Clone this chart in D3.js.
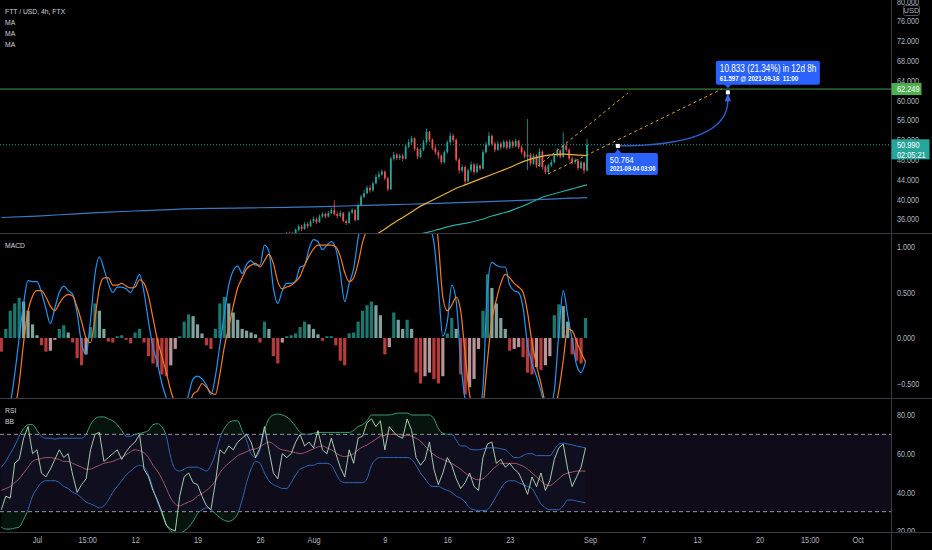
<!DOCTYPE html>
<html><head><meta charset="utf-8">
<script src="https://cdn.jsdelivr.net/npm/d3@7/dist/d3.min.js"></script>
<style>
html,body{margin:0;padding:0;background:#000;overflow:hidden}
svg{display:block;font-family:"Liberation Sans",Arial,sans-serif}
.ax{font-size:9px;fill:#b2b5be;transform-box:fill-box;transform-origin:0% 50%;transform:scaleX(.8)}
.tx{font-size:9px;fill:#b2b5be;transform-box:fill-box;transform-origin:50% 50%;transform:scaleX(.82)}
.lg{font-size:8px;fill:#d1d4dc;transform-box:fill-box;transform-origin:0% 50%;transform:scaleX(.85)}
.wt{fill:#fff;white-space:pre;transform-box:fill-box;transform-origin:0% 50%;transform:scaleX(.82)}
</style></head>
<body><svg id="chart" width="932" height="550"></svg>
<script>
// ---------------- DATA ----------------
const symbolTitle = "FTT / USD, 4h, FTX";
const priceTicks = [36,40,44,48,52,56,60,64,68,72,76,80];
const macdTicks = [-0.5,0,0.5,1];
const rsiTicks = [20,40,60,80];
const timeTickDates = ["2021-07-01T00:00:00Z","2021-07-06T15:00:00Z","2021-07-12T00:00:00Z","2021-07-19T00:00:00Z","2021-07-26T00:00:00Z","2021-08-01T00:00:00Z","2021-08-09T00:00:00Z","2021-08-16T00:00:00Z","2021-08-23T00:00:00Z","2021-09-01T00:00:00Z","2021-09-07T00:00:00Z","2021-09-13T00:00:00Z","2021-09-20T00:00:00Z","2021-09-25T15:00:00Z","2021-10-01T00:00:00Z"];
const timeTickLabels = ["Jul","15:00","12","19","26","Aug","9","16","23","Sep","7","13","20","15:00","Oct"];

// candles, 8h steps starting at candleStart; open = previous close
const candleStart = "2021-07-29T00:00:00Z";
const candleStepHours = 8;
const candleOpen0 = 32.6;
const candleClose = [33.0,32.5,33.0,33.8,34.5,34.0,35.0,34.6,35.5,36.0,
 35.4,36.5,37.0,36.5,37.2,37.8,37.0,36.6,37.2,35.6,
 35.2,37.3,37.8,35.8,38.8,40.5,41.2,42.3,41.8,43.2,
 44.5,45.0,45.6,44.2,42.0,48.2,49.0,48.3,48.8,48.2,
 50.6,51.5,52.3,50.2,48.6,50.0,51.5,53.6,52.0,50.3,
 49.5,48.8,47.5,49.5,51.5,52.8,52.0,48.0,45.8,46.5,
 43.6,45.8,47.0,45.5,46.8,46.2,49.5,51.0,52.8,51.2,
 50.0,51.2,50.5,51.6,50.4,51.6,50.8,51.8,50.5,49.5,
 48.6,49.0,47.2,48.8,46.8,49.6,46.5,45.5,46.8,47.5,
 48.8,49.8,48.6,50.8,50.0,48.2,47.5,47.8,46.3,47.4,
 45.8,50.99];
const candleHigh = [33.4,33.5,33.4,34.1,34.9,34.8,35.4,35.3,35.9,36.5,
 36.3,36.9,37.4,37.3,37.6,38.3,39.8,37.5,37.7,37.4,
 35.9,37.6,38.2,38.0,39.1,40.9,41.8,42.7,42.8,43.6,
 45.0,45.6,46.0,45.8,44.5,48.6,49.6,49.3,49.2,49.2,
 51.0,52.1,52.8,52.5,50.6,50.4,52.0,54.3,53.8,52.3,
 50.8,49.9,49.1,49.9,51.9,53.5,53.2,52.3,48.4,47.0,
 46.8,46.2,47.6,47.3,47.3,47.0,50.0,51.6,53.6,53.0,
 51.6,51.7,51.6,52.0,51.9,52.1,51.9,52.2,52.0,50.9,
 49.9,56.2,49.3,49.2,49.1,50.3,49.9,46.9,47.2,48.0,
 49.2,50.3,50.1,53.5,51.3,50.3,48.6,48.3,48.1,47.8,
 47.6,52.2];
const candleLow = [32.2,32.0,32.2,32.8,33.5,33.6,33.8,34.2,34.4,35.2,
 35.0,35.2,36.2,36.1,36.3,37.0,36.7,36.1,36.3,35.3,
 34.8,35.0,37.0,35.5,35.7,38.6,40.2,41.0,41.3,41.5,
 43.0,44.1,44.7,43.8,41.6,41.9,47.8,47.9,47.9,47.7,
 48.0,50.3,51.0,49.8,48.1,48.3,49.7,51.2,51.5,49.9,
 49.0,48.2,47.1,47.2,49.2,51.2,51.5,47.6,45.2,45.4,
 42.9,43.4,45.4,45.0,45.2,45.8,46.0,49.2,50.6,50.8,
 49.5,49.7,50.0,50.2,50.0,50.1,50.3,50.5,50.1,49.1,
 48.2,45.9,46.8,46.9,46.3,46.5,46.0,45.1,45.2,46.5,
 47.2,48.5,48.2,48.4,49.6,47.8,47.0,47.1,45.9,46.0,
 45.1,45.6];

// moving averages (days after 2021-07-01)
const maSlowDay = [-4,0,4,8,12,16,20,24,28,32,36,40,44,48,52,56,60,61.67];
const maSlow = [36.3,36.6,37.0,37.4,37.7,38.0,38.15,38.25,38.35,38.5,38.7,38.9,39.1,39.35,39.6,39.9,40.2,40.3];
const maFastDay = [38,39,40,41,42,43,44,45,46,47,48,49,50,51,52,53,54,55,56,57,58,59,60,61,61.67];
const maFast = [32.8,34.0,35.2,36.3,37.4,38.6,39.5,40.4,41.3,42.2,42.9,43.6,44.3,45.0,45.7,46.4,47.2,47.9,48.4,48.8,49.0,49.1,49.0,48.9,48.8];
const maMidDay = [43,44,45,46,47,48,49,50,51,52,53,54,55,56,57,58,59,60,61,61.67];
const maMid = [33.0,33.4,33.9,34.4,34.8,35.1,35.5,36.0,36.6,37.1,37.6,38.3,39.0,39.9,40.6,41.1,41.6,42.1,42.6,42.9];

// price lines and drawings
const targetPrice = 62.249;
const lastPrice = 50.990;
const countdown = "02:05:21";
const trendStartTimes = ["2021-08-26T04:00:00Z","2021-08-27T07:00:00Z"];
const trendStartPrices = [46.7,45.09];
const trendEndTimes = ["2021-09-05T06:00:00Z","2021-09-15T19:00:00Z"];
const trendEndPrices = [61.45,62.26];
const projTimes = ["2021-09-04T03:00:00Z","2021-09-16T11:00:00Z"];
const projPrices = [50.764,61.597];
const projStartLabel = ["50.764","2021-09-04 03:00"];
const projEndLabel = ["10.833 (21.34%) in 12d 8h","61.597 @ 2021-09-16  11:00"];

// indicator series: 12h steps starting at seriesStart
const seriesStart = "2021-06-27T00:00:00Z";
const seriesStepHours = 12;
const macdLine = [-0.85,-0.85,-0.72,-0.40,0.00,0.38,0.63,0.62,0.62,0.50,
 0.32,0.16,0.33,0.50,0.57,0.52,0.48,0.27,-0.06,-0.18,
 0.20,0.70,0.89,0.76,0.60,0.50,0.56,0.56,0.54,0.50,
 0.60,0.70,0.50,0.18,-0.10,-0.28,-0.50,-0.66,-0.78,-0.85,
 -0.85,-0.80,-0.62,-0.45,-0.42,-0.45,-0.52,-0.62,-0.42,-0.08,
 0.26,0.58,0.74,0.79,0.71,0.81,0.85,0.80,0.80,1.02,
 0.95,0.55,0.38,0.52,0.60,0.60,0.63,0.78,0.80,0.98,
 1.08,1.06,0.97,1.02,1.06,0.98,0.72,0.40,0.60,0.76,
 1.10,1.35,1.55,1.75,1.85,1.90,1.88,1.92,1.96,1.95,
 1.92,1.92,1.82,1.55,1.35,1.28,1.22,1.05,0.55,0.02,
 0.18,0.58,0.40,-0.25,-0.68,-0.85,-0.90,-0.85,-0.55,0.55,
 0.83,0.80,0.78,0.78,0.58,0.52,0.50,0.33,-0.08,-0.28,
 -0.42,-0.58,-0.75,-0.75,-0.58,0.05,0.52,0.25,-0.02,-0.30,
 -0.38,-0.26];
const signalLine = [-0.95,-0.92,-0.88,-0.78,-0.50,-0.05,0.30,0.46,0.52,0.52,
 0.45,0.35,0.30,0.38,0.45,0.48,0.46,0.34,0.18,0.00,
 -0.05,0.22,0.55,0.66,0.66,0.58,0.58,0.60,0.57,0.55,
 0.56,0.64,0.60,0.46,0.22,-0.02,-0.20,-0.38,-0.58,-0.72,
 -0.80,-0.82,-0.75,-0.62,-0.58,-0.50,-0.54,-0.60,-0.62,-0.40,
 -0.10,0.12,0.35,0.55,0.66,0.76,0.80,0.82,0.78,0.85,
 0.92,0.82,0.62,0.54,0.56,0.58,0.62,0.68,0.80,0.90,
 0.98,1.02,1.02,1.02,1.02,1.00,0.90,0.72,0.62,0.66,
 0.82,1.05,1.20,1.35,1.50,1.62,1.70,1.76,1.80,1.83,
 1.84,1.86,1.86,1.84,1.80,1.76,1.70,1.50,1.05,0.45,
 0.30,0.36,0.45,0.30,-0.18,-0.62,-0.85,-0.92,-0.75,-0.25,
 0.20,0.42,0.60,0.70,0.66,0.60,0.56,0.50,0.28,-0.05,
 -0.30,-0.50,-0.72,-0.80,-0.78,-0.58,-0.25,0.10,0.08,-0.04,
 -0.16,-0.26];
const macdHist = [-0.15,0.10,0.30,0.38,0.44,0.40,0.30,0.15,0.03,-0.08,
 -0.15,-0.14,-0.02,0.10,0.14,0.06,-0.05,-0.22,-0.30,-0.18,
 0.12,0.38,0.30,0.10,-0.04,-0.05,0.02,0.03,-0.02,-0.06,
 0.06,0.10,-0.05,-0.20,-0.28,-0.32,-0.40,-0.42,-0.30,-0.12,
 0.02,0.18,0.26,0.24,0.15,0.05,-0.08,-0.12,0.10,0.38,
 0.45,0.38,0.28,0.20,0.10,0.08,0.06,0.04,-0.05,0.18,
 0.10,-0.20,-0.28,-0.05,0.02,0.03,0.05,0.12,0.18,0.15,
 0.10,0.04,-0.03,0.02,0.02,-0.08,-0.25,-0.30,0.05,0.06,
 0.18,0.30,0.36,0.40,0.36,0.25,-0.18,-0.10,0.28,0.20,
 0.10,0.20,0.10,-0.38,-0.50,-0.42,-0.38,-0.45,-0.50,-0.42,
 0.05,0.22,0.10,-0.40,-0.62,-0.54,-0.45,-0.12,0.30,0.70,
 0.55,0.38,0.22,0.10,-0.14,-0.12,-0.10,-0.21,-0.38,-0.40,
 -0.32,-0.35,-0.30,-0.20,0.25,0.37,0.35,0.18,-0.18,-0.25,
 -0.28,0.22];
const rsiLine = [31,38,37,55,57,68,74,60,62,50,
 48,52,57,62,58,60,49,40,44,47,
 62,70,71,56,58,60,62,57,61,64,
 66,70,52,48,41,36,30,23,21,20,
 38,48,50,45,44,38,33,31,45,62,
 60,64,62,66,68,70,66,58,63,74,
 62,50,47,60,58,60,66,70,64,66,
 63,72,62,60,68,60,53,48,62,55,
 68,69,76,78,74,77,62,74,71,69,
 68,78,72,58,54,57,66,52,44,50,
 58,54,47,42,45,50,43,41,58,65,
 66,55,57,53,55,52,50,45,39,48,
 43,50,41,46,57,63,65,52,43,48,
 53,63];
const bbUpper = [53,56,60,64,69,73,75,75,72,69,
 68,68,67.5,68,68,68,68,68,68,70,
 75,78,79,79,78,77,75,72,69,69,
 70,70.5,71,72,75,75.5,74,69,58,52,
 51,52,53,53,53,52,51,54,60,68,
 73,76,77,77,72,67,60,58,62,72,
 78,80,80.5,80,79,77,74,71,70,70,
 70.5,71,71,71,71,71,71,71,71,72,
 74,75,77,80,80,80,80,80,80.5,81,
 81,81,80,80,80,80,80,78,73,70.5,
 70,70,67,64,64,62.5,62,62,62.5,63,
 63,63,62.5,62,60,58,58,59,60,60,
 59,59,59,59,62,65,65.5,65,64.5,64,
 63.5,63];
const bbLower = [22,21,21,21.5,22,26,31,38,42,45,
 46,46,46,45,43,42,40,39,37,35,
 34,33,32,33,36,40,43,46,49,51,
 53,54,53,49,42,35,29,23,20,19,
 19,20,22,25,29,31,32,31,29,27,
 25.5,25,26,29,36,45,52,56,55,50,
 46,44,43,42,42,45,49,52,53,54,
 54,55,55,55,54,50,46,45,45,45,
 45,45,47,54,57,58,58,58,58,58,
 58,58,57,54,50,47,44,43,43,42,
 41,40,38,37,35,32,31,30.5,30.5,31,
 34,38,42,45,46,46,45,44,43,42,
 38,34,32,31,31,31,33,36,36,35.5,
 35,34.5];
const bbBasis = [41,42,43,45,47,50,53,56,57,57.5,
 58,58,57.5,57,56,56,55,54,53,52,
 52,53,54,55,55.5,56,57,58,59.5,61,
 62,61.5,60.5,58,54,51,47,42,37,34,
 33,34,35,36,38,39.5,41,43,46,50,
 53,55,57,59,60,61,62,62.5,63.5,65,
 66,65,63,62,61.5,61,60.5,60,60.5,61.5,
 62.5,63.5,64,63,62,60.5,59,58.5,59,60,
 62,63.5,64.5,66,67.5,69,69.5,70,70,70,
 69.5,69.5,69,68,66.5,64,61.5,59.5,58,57,
 56,55,53.5,52,50,48.5,47,46.5,47,49,
 51.5,53.5,55,55,55,55,54.5,53.5,52,50,
 48,46,44,43.5,45,47,49,50,50.5,51,
 51,51];
const rsiUpperLevel = 70, rsiLowerLevel = 30;

// ---------------- CHART ----------------
const PW = 891;
const svg = d3.select("#chart");
svg.append("rect").attr("width",932).attr("height",550).attr("fill","#000");

const x = d3.scaleUtc().domain([new Date("2021-07-01T00:00:00Z"), new Date("2021-09-01T00:00:00Z")]).range([37,590]);
const yP = d3.scaleLinear().domain([36,76]).range([219,21]);
const yM = d3.scaleLinear().domain([-0.5,1]).range([383.5,247]);
const yR = d3.scaleLinear().domain([20,80]).range([531,415]);

const HOUR = 3600e3, DAY = 24*HOUR;
const sT0 = Date.parse(seriesStart);
const sx = i => x(new Date(sT0 + i*seriesStepHours*HOUR));
const jul1 = Date.parse("2021-07-01T00:00:00Z");
const dx = d => x(new Date(jul1 + d*DAY));

const defs = svg.append("defs");
function clip(id, rects){ const c = defs.append("clipPath").attr("id",id);
  rects.forEach(r=>c.append("rect").attr("x",r[0]).attr("y",r[1]).attr("width",r[2]).attr("height",r[3])); }
const y70 = yR(rsiUpperLevel), y30 = yR(rsiLowerLevel);
clip("cMain",[[0,0,PW,233]]);
clip("cMacd",[[0,233.5,PW,164.5]]);
clip("cRsi",[[0,398.5,PW,133.5]]);
clip("cIn",[[0,y70,PW,y30-y70]]);
clip("cOut",[[0,398.5,PW,y70-398.5],[0,y30,PW,532-y30]]);
clip("cTop",[[0,398.5,PW,y70-398.5]]);
clip("cBot",[[0,y30,PW,532-y30]]);
clip("cMainAx",[[PW,0,41,233]]);
clip("cMacdAx",[[PW,233.5,41,164.5]]);
clip("cRsiAx",[[PW,398.5,41,133.5]]);

// ---- main pane ----
const gMain = svg.append("g").attr("clip-path","url(#cMain)");
gMain.append("line").attr("x1",0).attr("x2",PW).attr("y1",yP(targetPrice)).attr("y2",yP(targetPrice))
  .attr("stroke","#4a9a45").attr("stroke-width",1);
gMain.append("line").attr("x1",0).attr("x2",PW).attr("y1",yP(lastPrice)).attr("y2",yP(lastPrice))
  .attr("stroke","#26a69a").attr("stroke-width",1).attr("stroke-dasharray","1,2");
const dayLine = (vals,days) => d3.line().x((v,i)=>dx(days[i])).y(v=>yP(v)).curve(d3.curveMonotoneX)(vals);
gMain.append("path").attr("d",dayLine(maSlow,maSlowDay)).attr("fill","none").attr("stroke","#3a78c2").attr("stroke-width",1.2);
gMain.append("path").attr("d",dayLine(maMid,maMidDay)).attr("fill","none").attr("stroke","#2aaaa0").attr("stroke-width",1.2);

const cT0 = Date.parse(candleStart);
const candles = candleClose.map((c,k)=>({t:new Date(cT0 + k*candleStepHours*HOUR),
  o: k ? candleClose[k-1] : candleOpen0, c, h:candleHigh[k], l:candleLow[k]}));
const UP = "#26a69a", DN = "#ef5350";
const gC = gMain.append("g");
gC.selectAll("line").data(candles).join("line")
  .attr("x1",d=>x(d.t)).attr("x2",d=>x(d.t)).attr("y1",d=>yP(d.h)).attr("y2",d=>yP(d.l))
  .attr("stroke",d=>d.c>=d.o?UP:DN).attr("stroke-width",0.8);
gC.selectAll("rect").data(candles).join("rect")
  .attr("x",d=>x(d.t)-0.9).attr("width",1.8)
  .attr("y",d=>yP(Math.max(d.o,d.c))).attr("height",d=>Math.max(0.8,Math.abs(yP(d.o)-yP(d.c))))
  .attr("fill",d=>d.c>=d.o?UP:DN);

gMain.append("path").attr("d",dayLine(maFast,maFastDay)).attr("fill","none").attr("stroke","#e8b13a").attr("stroke-width",1.2);

trendStartTimes.forEach((t,i)=>{
  gMain.append("line").attr("x1",x(new Date(t))).attr("y1",yP(trendStartPrices[i]))
    .attr("x2",x(new Date(trendEndTimes[i]))).attr("y2",yP(trendEndPrices[i]))
    .attr("stroke","#e0a030").attr("stroke-width",1).attr("stroke-dasharray","3,3");
});

// projection curve
const xA = x(new Date(projTimes[0])), yA = yP(projPrices[0]);
const xB = x(new Date(projTimes[1])), yB = yP(projPrices[1]);
const gProj = svg.append("g");
gProj.append("path").attr("d",`M${xA},${yA} Q${xB},${yA} ${xB},${yB+8}`)
  .attr("fill","none").attr("stroke","#2f5fd0").attr("stroke-width",1.4);
gProj.append("path").attr("d",`M${xB},${yB+1} L${xB-3.2},${yB+9} L${xB+3.2},${yB+9}Z`).attr("fill","#3466e0");
gProj.append("rect").attr("x",xA-2).attr("y",yA-2).attr("width",4).attr("height",4).attr("fill","#fff");
gProj.append("rect").attr("x",xB-2).attr("y",yB-2).attr("width",4).attr("height",4).attr("fill","#fff");
gProj.append("path").attr("d",`M${xA-3.5},${yA+7.5} L${xA},${yA+3} L${xA+3.5},${yA+7.5}Z`).attr("fill","#2962ff");
gProj.append("rect").attr("x",xA-12).attr("y",yA+7).attr("width",52).attr("height",22).attr("rx",2).attr("fill","#2962ff");
gProj.append("text").attr("class","wt").attr("x",xA-8).attr("y",yA+17.5).attr("font-size",9.5).text(projStartLabel[0]);
gProj.append("text").attr("class","wt").attr("x",xA-8).attr("y",yA+25.5).attr("font-size",7).attr("font-weight","bold").text(projStartLabel[1]);
gProj.append("path").attr("d",`M${xB-3.5},${yB-8} L${xB},${yB-4} L${xB+3.5},${yB-8}Z`).attr("fill","#2962ff");
gProj.append("rect").attr("x",xB-12).attr("y",yB-31.5).attr("width",104).attr("height",24).attr("rx",2).attr("fill","#2962ff");
gProj.append("text").attr("class","wt").attr("x",xB-8).attr("y",yB-20.5).attr("font-size",10).text(projEndLabel[0]);
gProj.append("text").attr("class","wt").attr("x",xB-8).attr("y",yB-11.3).attr("font-size",7.5).attr("font-weight","bold").text(projEndLabel[1]);

// ---- MACD pane ----
const gMacd = svg.append("g").attr("clip-path","url(#cMacd)");
gMacd.selectAll("rect").data(macdHist).join("rect")
  .attr("x",(v,i)=>sx(i)-1.6).attr("width",3.2)
  .attr("y",v=>yM(Math.max(0,v))).attr("height",v=>Math.max(0.5,Math.abs(yM(v)-yM(0))))
  .attr("fill",(v,i)=>{const p = i?macdHist[i-1]:v; return v>=0?(v>=p?"#26a69a":"#b2dfdb"):(v<=p?"#ff5252":"#ffcdd2");})
  .attr("opacity",0.72);
const idxLine = (arr,y,curve) => d3.line().x((v,i)=>sx(i)).y(v=>y(v)).curve(curve)(arr);
gMacd.append("path").attr("d",idxLine(macdLine,yM,d3.curveMonotoneX)).attr("fill","none").attr("stroke","#2196f3").attr("stroke-width",1.2);
gMacd.append("path").attr("d",idxLine(signalLine,yM,d3.curveMonotoneX)).attr("fill","none").attr("stroke","#f57c1f").attr("stroke-width",1.2);

// ---- RSI pane ----
const gRsi = svg.append("g").attr("clip-path","url(#cRsi)");
gRsi.append("rect").attr("x",0).attr("y",y70).attr("width",PW).attr("height",y30-y70).attr("fill","rgba(126,87,194,0.13)");
gRsi.append("path").attr("d",d3.area().x((v,i)=>sx(i)).y0((v,i)=>yR(bbLower[i])).y1(v=>yR(v)).curve(d3.curveMonotoneX)(bbUpper))
  .attr("fill","rgba(33,150,243,0.03)");
gRsi.append("g").attr("clip-path","url(#cTop)").append("path")
  .attr("d",d3.area().x((v,i)=>sx(i)).y0(y70).y1(v=>yR(v)).curve(d3.curveMonotoneX)(bbUpper)).attr("fill","rgba(76,175,80,0.09)");
gRsi.append("g").attr("clip-path","url(#cBot)").append("path")
  .attr("d",d3.area().x((v,i)=>sx(i)).y0(y30).y1(v=>yR(v)).curve(d3.curveMonotoneX)(bbLower)).attr("fill","rgba(76,175,80,0.09)");
[y70,y30].forEach(yy=>gRsi.append("line").attr("x1",0).attr("x2",PW).attr("y1",yy).attr("y2",yy)
  .attr("stroke","#9598a1").attr("stroke-width",1).attr("stroke-dasharray","4,3"));
[bbUpper,bbLower].forEach(arr=>{
  const d = idxLine(arr,yR,d3.curveMonotoneX);
  gRsi.append("g").attr("clip-path","url(#cIn)").append("path").attr("d",d).attr("fill","none").attr("stroke","#2d68b8").attr("stroke-width",1);
  gRsi.append("g").attr("clip-path","url(#cOut)").append("path").attr("d",d).attr("fill","none").attr("stroke","#3a9e70").attr("stroke-width",1);
});
gRsi.append("path").attr("d",idxLine(bbBasis,yR,d3.curveMonotoneX)).attr("fill","none").attr("stroke","#a05566").attr("stroke-width",1);
gRsi.append("path").attr("d",idxLine(rsiLine,yR,d3.curveLinear)).attr("fill","none").attr("stroke","#b9dcbb").attr("stroke-width",0.9);

// ---- separators ----
const sepC = "#363a45";
[233.5,398.5,532.5].forEach(yy=>svg.append("line").attr("x1",0).attr("x2",932).attr("y1",yy).attr("y2",yy).attr("stroke",sepC));
svg.append("line").attr("x1",PW+0.5).attr("x2",PW+0.5).attr("y1",0).attr("y2",550).attr("stroke",sepC);

// ---- axes ----
function styleAxis(g, cls){
  g.select(".domain").remove(); g.selectAll(".tick line").remove();
  g.attr("font-size",null).attr("font-family",null);
  g.selectAll("text").attr("class",cls);
}
svg.append("g").attr("clip-path","url(#cMainAx)").append("g").attr("transform",`translate(${PW},0)`)
  .call(d3.axisRight(yP).tickValues(priceTicks).tickFormat(d3.format(".3f")).tickSize(0).tickPadding(6)).call(g=>styleAxis(g,"ax"));
svg.append("g").attr("clip-path","url(#cMacdAx)").append("g").attr("transform",`translate(${PW},0)`)
  .call(d3.axisRight(yM).tickValues(macdTicks).tickFormat(d3.format(".3f")).tickSize(0).tickPadding(6)).call(g=>styleAxis(g,"ax"));
svg.append("g").attr("clip-path","url(#cRsiAx)").append("g").attr("transform",`translate(${PW},0)`)
  .call(d3.axisRight(yR).tickValues(rsiTicks).tickFormat(d3.format(".2f")).tickSize(0).tickPadding(6)).call(g=>styleAxis(g,"ax"));
const tickDates = timeTickDates.map(s=>new Date(s));
svg.append("g").attr("transform","translate(0,532)")
  .call(d3.axisBottom(x).tickValues(tickDates).tickFormat((d,i)=>timeTickLabels[i]).tickSize(0).tickPadding(5))
  .call(g=>styleAxis(g,"tx"));

// USD box
svg.append("rect").attr("x",903.5).attr("y",5.5).attr("width",16).attr("height",10).attr("rx",2).attr("fill","#000").attr("stroke","#50535e");
svg.append("text").attr("x",911.5).attr("y",13.3).attr("text-anchor","middle").attr("font-size",7.5).attr("fill","#b2b5be").text("USD");

// price labels on axis
svg.append("rect").attr("x",PW+0.5).attr("y",yP(targetPrice)-6).attr("width",30).attr("height",12).attr("fill","#4caf50");
svg.append("text").attr("class","wt").attr("x",897).attr("y",yP(targetPrice)+3.2).attr("font-size",9).text(d3.format(".3f")(targetPrice));
svg.append("rect").attr("x",PW+0.5).attr("y",yP(lastPrice)-5.5).attr("width",38).attr("height",20).attr("fill","#26a69a");
svg.append("text").attr("class","wt").attr("x",897).attr("y",yP(lastPrice)+3.4).attr("font-size",9).text(d3.format(".3f")(lastPrice));
svg.append("text").attr("class","wt").attr("x",897).attr("y",yP(lastPrice)+13.2).attr("font-size",9).text(countdown);

// legends
const legends = [[symbolTitle,14],["MA",25.5],["MA",36.3],["MA",47],["MACD",248.5],["RSI",413.5],["BB",424.5]];
legends.forEach(l=>svg.append("text").attr("class","lg").attr("x",5).attr("y",l[1]).text(l[0]));
</script></body></html>
